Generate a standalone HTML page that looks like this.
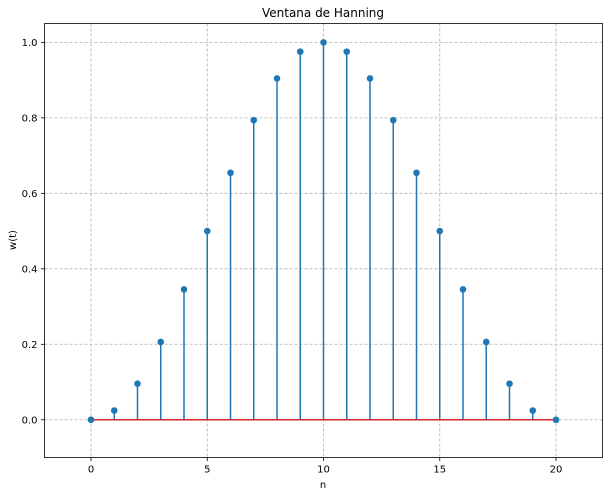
<!DOCTYPE html>
<html><head><meta charset="utf-8"><style>
body{margin:0;background:#fff;font-family:"Liberation Sans","DejaVu Sans",sans-serif;}
svg text{font-family:"DejaVu Sans","Liberation Sans",sans-serif;}
</style></head><body>
<svg id="chart" width="609" height="496" xmlns="http://www.w3.org/2000/svg">
<rect width="609" height="496" fill="#fff"/>
<text x="323" y="17" font-size="12" text-anchor="middle" fill="#000">Ventana de Hanning</text>
<g id="grid"></g>
<g id="series"></g>
<rect x="44.5" y="23.5" width="558" height="434" fill="none" stroke="#000" stroke-width="0.8"/>
<g id="axes"></g>
<text x="323" y="488" font-size="10" text-anchor="middle">n</text>
<text x="16" y="240" font-size="10" text-anchor="middle" transform="rotate(-90 16 240)">w(t)</text>
</svg>
<script>
const nValues=[0,1,2,3,4,5,6,7,8,9,10,11,12,13,14,15,16,17,18,19,20];
const wValues=[0,0.0245,0.0955,0.2061,0.3455,0.5,0.6545,0.7939,0.9045,0.9755,1,0.9755,0.9045,0.7939,0.6545,0.5,0.3455,0.2061,0.0955,0.0245,0];
const xTicks=[0,5,10,15,20];
const yTicks=[0,0.2,0.4,0.6,0.8,1.0];
const L=44.5,R=602.5,T=23.5,B=457.5,xMin=-2,xMax=22,yMin=-0.1,yMax=1.05;
const X=v=>L+(v-xMin)/(xMax-xMin)*(R-L);
const Y=v=>B-(v-yMin)/(yMax-yMin)*(B-T);
const NS="http://www.w3.org/2000/svg";
function mk(tag,attrs,parent){const e=document.createElementNS(NS,tag);for(const k in attrs)e.setAttribute(k,attrs[k]);parent.appendChild(e);return e;}
const grid=document.getElementById('grid'),axes=document.getElementById('axes'),ser=document.getElementById('series');
xTicks.forEach(t=>{const x=X(t);
 const g=mk('line',{x1:x,x2:x,y1:T,y2:B,stroke:'#b0b0b0','stroke-width':0.8,'stroke-dasharray':'3,2'},grid);
 
 
 const k=mk('line',{x1:x,x2:x,y1:B,y2:B+3.5,stroke:'#000','stroke-width':0.8},axes);
 
 
 const l=mk('text',{x:x,y:B+15,'font-size':10,'text-anchor':'middle'},axes);l.textContent=t;
 
 
});
yTicks.forEach(t=>{const y=Y(t);
 const g=mk('line',{x1:L,x2:R,y1:y,y2:y,stroke:'#b0b0b0','stroke-width':0.8,'stroke-dasharray':'3,2'},grid);
 
 
 const k=mk('line',{x1:L-3.5,x2:L,y1:y,y2:y,stroke:'#000','stroke-width':0.8},axes);
 
 
 const l=mk('text',{x:L-7,y:y+3.5,'font-size':10,'text-anchor':'end'},axes);l.textContent=t.toFixed(1);
 
 
});
nValues.forEach((n,i)=>{
 const s=mk('line',{x1:X(n),x2:X(n),y1:Y(0),y2:Y(wValues[i]),stroke:'#1f77b4','stroke-width':1.5},ser);
 
 
});
const base=mk('line',{x1:X(nValues[0]),x2:X(nValues[nValues.length-1]),y1:Y(0),y2:Y(0),stroke:'#d62728','stroke-width':1.5},ser);


nValues.forEach((n,i)=>{
 const c=mk('circle',{cx:X(n),cy:Y(wValues[i]),r:3.3,fill:'#1f77b4'},ser);
 
 
});
</script>
</body></html>
